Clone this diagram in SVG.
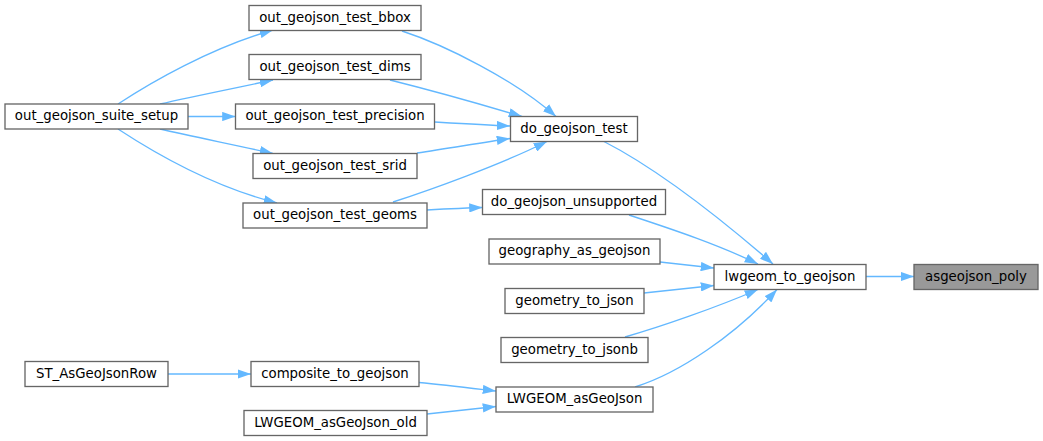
<svg xmlns="http://www.w3.org/2000/svg" width="1043" height="441" viewBox="0 0 1043 441">
<defs>
<style>
.node rect{fill:#ffffff;stroke:#666666;stroke-width:1.33}
.node.hl rect{fill:#999999}
.node text{font-family:"DejaVu Sans",sans-serif;font-size:13.3px;fill:#000000;text-anchor:middle}
.edges path{fill:none;stroke:#63b8ff;stroke-width:1.33;marker-end:url(#arr)}
</style>
<marker id="arr" markerUnits="userSpaceOnUse" viewBox="0 0 13.3 9.3" refX="13.3" refY="4.65" markerWidth="13.3" markerHeight="9.3" orient="auto">
<path d="M0,0 L13.3,4.65 L0,9.3 z" fill="#63b8ff"/>
</marker>
</defs>
<rect width="1043" height="441" fill="#ffffff"/>
<g class="edges" id="edges">
<path d="M866,276.5 L914,276.5"/>
<path d="M603,141 C650,165 705,205 773,264"/>
<path d="M629,215 C665,227 715,243 758,264"/>
<path d="M660,262 C678,264 696,266 714,268"/>
<path d="M644,293 C668,290.5 690,288 714,285.5"/>
<path d="M625,337 C660,327 715,308 758,289.5"/>
<path d="M635,387 C680,373 735,335 777,289.5"/>
<path d="M419,382.5 C445,385 470,388 496,391"/>
<path d="M427,414 C450,411.5 473,409 496,406.5"/>
<path d="M168,374 L251,374"/>
<path d="M118,104 C150,83 210,48 273,30"/>
<path d="M160,104 C190,97 240,87 273,80"/>
<path d="M188,116.5 L235.5,116.5"/>
<path d="M160,129 C190,136 240,146 273,153.5"/>
<path d="M118,129 C150,150 210,186 277,203"/>
<path d="M402,31 C445,45 515,80 556,116.5"/>
<path d="M390,80 C430,90 480,104 522,116.5"/>
<path d="M434.5,122 C460,123.5 485,125 510,126"/>
<path d="M417,153 C448,148.5 479,143 510,138.5"/>
<path d="M393,202 C430,190 500,165 547,141.5"/>
<path d="M427,210 C445,209 464,208 482.5,207.5"/>
</g>
<g class="node hl" id="asgeojson_poly"><rect x="914" y="264.5" width="124" height="25"/><text x="976" y="280.5">asgeojson_poly</text></g>
<g class="node" id="lwgeom_to_geojson"><rect x="714" y="264.5" width="152" height="25"/><text x="790" y="280.5">lwgeom_to_geojson</text></g>
<g class="node" id="do_geojson_test"><rect x="510.5" y="116.5" width="127" height="25"/><text x="574" y="132.5">do_geojson_test</text></g>
<g class="node" id="do_geojson_unsupported"><rect x="482.5" y="189.5" width="183" height="25"/><text x="574" y="205.5">do_geojson_unsupported</text></g>
<g class="node" id="geography_as_geojson"><rect x="489" y="239" width="171" height="25"/><text x="574.5" y="255">geography_as_geojson</text></g>
<g class="node" id="geometry_to_json"><rect x="505" y="288.5" width="139" height="25"/><text x="574.5" y="304.5">geometry_to_json</text></g>
<g class="node" id="geometry_to_jsonb"><rect x="501" y="337.5" width="147" height="25"/><text x="574.5" y="353.5">geometry_to_jsonb</text></g>
<g class="node" id="LWGEOM_asGeoJson"><rect x="496" y="387" width="157" height="25"/><text x="574.5" y="403">LWGEOM_asGeoJson</text></g>
<g class="node" id="composite_to_geojson"><rect x="251" y="361.5" width="168" height="25"/><text x="335" y="377.5">composite_to_geojson</text></g>
<g class="node" id="LWGEOM_asGeoJson_old"><rect x="244" y="410.5" width="183" height="25"/><text x="335.5" y="426.5">LWGEOM_asGeoJson_old</text></g>
<g class="node" id="ST_AsGeoJsonRow"><rect x="25" y="361.5" width="143" height="25"/><text x="96.5" y="377.5">ST_AsGeoJsonRow</text></g>
<g class="node" id="out_geojson_suite_setup"><rect x="5" y="104" width="183" height="25"/><text x="96.5" y="120">out_geojson_suite_setup</text></g>
<g class="node" id="out_geojson_test_bbox"><rect x="249" y="5.5" width="172" height="25"/><text x="335" y="21.5">out_geojson_test_bbox</text></g>
<g class="node" id="out_geojson_test_dims"><rect x="249" y="54.5" width="172" height="25"/><text x="335" y="70.5">out_geojson_test_dims</text></g>
<g class="node" id="out_geojson_test_precision"><rect x="235.5" y="104" width="199" height="25"/><text x="335" y="120">out_geojson_test_precision</text></g>
<g class="node" id="out_geojson_test_srid"><rect x="253" y="153.5" width="164" height="25"/><text x="335" y="169.5">out_geojson_test_srid</text></g>
<g class="node" id="out_geojson_test_geoms"><rect x="243" y="203" width="184" height="25"/><text x="335" y="219">out_geojson_test_geoms</text></g>
</svg>
